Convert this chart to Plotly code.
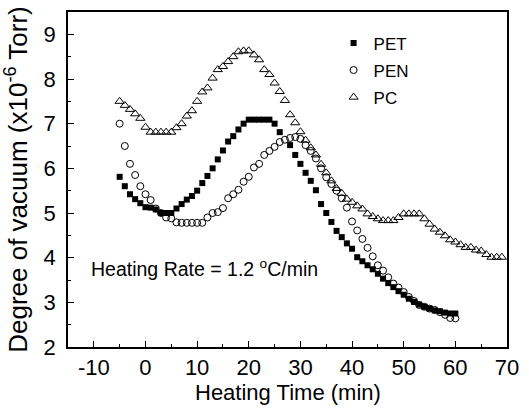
import plotly.graph_objects as go

# Heating time (min)
pet_x = [-5, -4, -3, -2, -1, 0, 1, 2, 3, 4, 5, 6, 7, 8, 9, 10, 11, 12, 13, 14, 15, 16, 17, 18, 19, 20,
         21, 22, 23, 24, 25, 26, 28, 29, 30, 31, 32, 33, 34, 35, 36, 37, 38, 39, 40, 41, 42, 43, 44,
         45, 46, 47, 48, 49, 50, 51, 52, 53, 54, 55, 56, 57, 58, 59, 60]
pet_y = [5.81, 5.60, 5.42, 5.31, 5.22, 5.13, 5.12, 5.08, 5.00, 5.00, 5.00, 5.10, 5.20, 5.30, 5.38,
         5.50, 5.67, 5.83, 6.00, 6.20, 6.40, 6.60, 6.72, 6.87, 7.00, 7.09, 7.09, 7.09, 7.09, 7.09,
         7.00, 6.81, 6.52, 6.30, 6.10, 5.90, 5.72, 5.51, 5.20, 5.00, 4.80, 4.60, 4.46, 4.32, 4.20,
         4.01, 3.92, 3.83, 3.74, 3.64, 3.53, 3.43, 3.34, 3.25, 3.17, 3.08, 3.01, 2.95, 2.90, 2.86,
         2.82, 2.80, 2.77, 2.75, 2.75]

pen_x = [-5, -4, -3, -2, -1, 0, 1, 2, 3, 4, 5, 6, 7, 8, 9, 10, 11, 12, 13, 14, 15, 16, 17, 18, 19, 20,
         21, 22, 23, 24, 25, 26, 27, 28, 29, 30, 31, 32, 33, 34, 35, 36, 37, 38, 39, 40, 41, 42, 43,
         44, 45, 46, 47, 48, 49, 50, 51, 52, 53, 54, 55, 56, 57, 58, 59, 60]
pen_y = [7.00, 6.50, 6.10, 5.85, 5.60, 5.42, 5.29, 5.10, 5.00, 4.90, 4.88, 4.79, 4.78, 4.78, 4.78,
         4.78, 4.78, 4.90, 5.00, 5.02, 5.11, 5.33, 5.42, 5.52, 5.70, 5.81, 6.02, 6.10, 6.30, 6.39,
         6.48, 6.59, 6.64, 6.68, 6.70, 6.66, 6.52, 6.39, 6.22, 6.00, 5.80, 5.65, 5.50, 5.33, 5.12,
         4.81, 4.61, 4.42, 4.22, 4.03, 3.83, 3.71, 3.56, 3.42, 3.33, 3.23, 3.12, 3.03, 2.94, 2.90,
         2.86, 2.83, 2.78, 2.72, 2.65, 2.64]

pc_x = [-5, -4, -3, -2, -1, 0, 1, 2, 3, 4, 5, 6, 7, 8, 9, 10, 11, 12, 13, 14, 15, 16, 17, 18, 19, 20,
        21, 22, 23, 24, 25, 26, 27, 28, 29, 30, 31, 32, 33, 34, 35, 36, 37, 38, 39, 40, 41, 42, 43,
        44, 45, 46, 47, 48, 49, 50, 51, 52, 53, 54, 55, 56, 57, 58, 59, 60, 61, 62, 63, 64, 65, 66,
        67, 68, 69]
pc_y = [7.50, 7.41, 7.32, 7.22, 7.12, 6.92, 6.81, 6.81, 6.81, 6.81, 6.81, 6.91, 7.00, 7.17, 7.29,
        7.50, 7.71, 7.80, 8.02, 8.21, 8.28, 8.39, 8.50, 8.61, 8.63, 8.63, 8.54, 8.43, 8.21, 8.10,
        7.91, 7.72, 7.52, 7.20, 7.02, 6.82, 6.63, 6.46, 6.30, 6.09, 5.90, 5.72, 5.55, 5.44, 5.31,
        5.24, 5.16, 5.09, 4.98, 4.92, 4.87, 4.83, 4.83, 4.83, 4.90, 4.98, 4.98, 4.98, 4.98, 4.87,
        4.75, 4.64, 4.57, 4.49, 4.40, 4.35, 4.29, 4.23, 4.23, 4.17, 4.15, 4.07, 4.01, 4.01, 4.01]

x_ticks = [-10, 0, 10, 20, 30, 40, 50, 60, 70]
y_ticks = [2, 3, 4, 5, 6, 7, 8, 9]

FONT = "Arial, Liberation Sans, sans-serif"

fig = go.Figure()
fig.add_trace(go.Scatter(x=pet_x, y=pet_y, mode="markers", name="PET", legendgroup="a",
                         marker=dict(symbol="square", size=6, color="black")))
fig.add_trace(go.Scatter(x=pen_x, y=pen_y, mode="markers", name="PEN", legendgroup="b",
                         marker=dict(symbol="circle-open", size=7, color="black", line=dict(width=1))))
fig.add_trace(go.Scatter(x=pc_x, y=pc_y, mode="markers", name="PC", legendgroup="c",
                         marker=dict(symbol="triangle-up-open", size=8, color="black", line=dict(width=1))))

fig.add_annotation(text="Heating Rate = 1.2 <sup>o</sup>C/min", xref="paper", yref="y",
                   x=0.048, y=3.76, xanchor="left", yanchor="middle", showarrow=False,
                   font=dict(family=FONT, size=19.5, color="black"))

# x-axis title placed as paper annotation just under the tick labels
fig.add_annotation(text="Heating Time (min)", xref="paper", yref="paper",
                   x=0.5, y=-0.135, xanchor="center", yanchor="middle", showarrow=False,
                   font=dict(family=FONT, size=22, color="black"))

tick_font = dict(family=FONT, size=22, color="black")
axis_common = dict(showline=True, linecolor="black", linewidth=1.5, mirror=True,
                   ticks="inside", ticklen=6, tickwidth=1.2, tickcolor="black",
                   showgrid=False, zeroline=False,
                   minor=dict(ticks="inside", ticklen=3, tickwidth=1, tickcolor="black"))

fig.update_xaxes(range=[-15, 70], tickvals=x_ticks, ticktext=[str(v) for v in x_ticks],
                 tickfont=tick_font, ticklabelstandoff=0,
                 minor_dtick=5, minor_tick0=-15,
                 **axis_common)
fig.update_yaxes(range=[2, 9.5], tickvals=y_ticks, ticktext=[str(v) for v in y_ticks],
                 tickfont=tick_font, ticklabelstandoff=6,
                 minor_dtick=0.5, minor_tick0=2,
                 title=dict(text="Degree of vacuum (x10<sup>-6</sup> Torr)",
                            font=dict(family=FONT, size=26, color="black"), standoff=9),
                 **axis_common)

fig.update_layout(
    width=529, height=415,
    margin=dict(l=68, r=15, t=10, b=68),
    paper_bgcolor="white", plot_bgcolor="white",
    showlegend=True,
    legend=dict(x=0.605, y=0.96, xanchor="left", yanchor="top", bgcolor="rgba(0,0,0,0)",
                font=dict(family=FONT, size=17, color="black"), traceorder="grouped",
                tracegroupgap=2),
)

fig.write_html("out.html")
